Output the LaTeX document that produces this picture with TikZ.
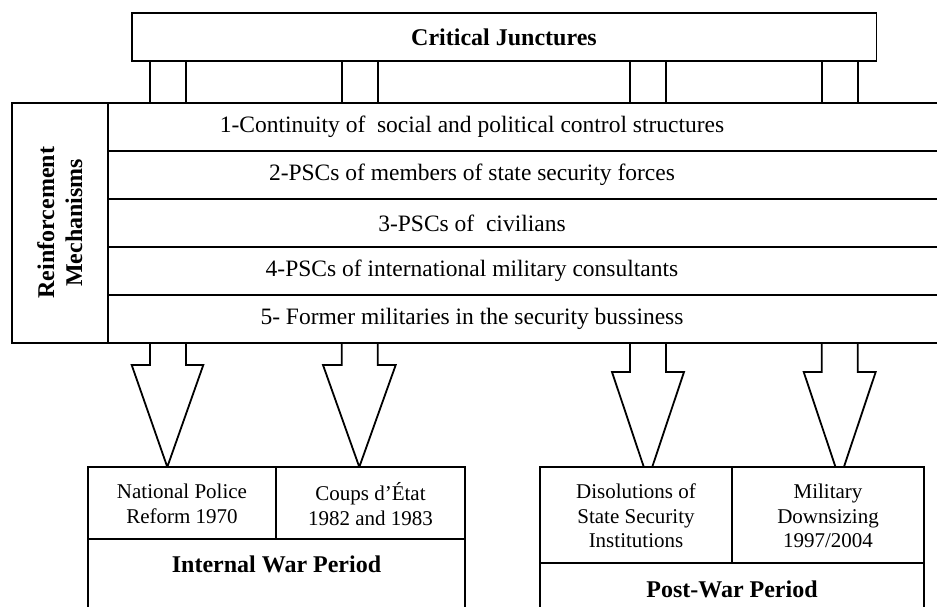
\documentclass[tikz,border=0pt]{standalone}
\usepackage{fontspec}
\setmainfont{Liberation Serif}
\begin{document}
\begin{tikzpicture}[x=1pt,y=-1pt, line width=1.8pt, line join=miter,
  lbl/.style={font=\fontsize{21}{24.5}\selectfont, align=center, inner sep=0pt},
  rowlbl/.style={font=\fontsize{23.5}{27}\selectfont, align=center, inner sep=0pt},
  bld/.style={font=\fontsize{24}{28}\selectfont\bfseries, align=center, inner sep=0pt},
  blockarrow/.style={draw, line width=1.8pt}]
\useasboundingbox (0,0) rectangle (937,607);
\clip (0,0) rectangle (937,607);
% Critical junctures box
\draw (132,13) rectangle (876.5,61);
\node[bld] (cj) at (504,37) {Critical Junctures};
% pillars
\foreach \px in {150,186,341.7,377.7,630,666,821.7,857.7}
  \draw (\px,61) -- (\px,102.7);
% Reinforcement mechanisms box
\draw (11.7,102.7) rectangle (108,342.7);
\node[bld, rotate=90] (rm) at (59.8,222.7) {Reinforcement\\Mechanisms};
% rows
\draw (108,102.7) rectangle (950,342.7);
\foreach \ry in {151,199,247,295}
  \draw (108,\ry) -- (950,\ry);
\node[rowlbl] (r1) at (472,127) {1-Continuity of~ social and political control structures};
\node[rowlbl] (r2) at (472,175) {2-PSCs of members of state security forces};
\node[rowlbl] (r3) at (472,223) {3-PSCs of~ civilians};
\node[rowlbl] (r4) at (472,271) {4-PSCs of international military consultants};
\node[rowlbl] (r5) at (472,319) {5- Former militaries in the security bussiness};
% block arrows
\draw[blockarrow] (150,342.7) -- (150,365) -- (131.7,365) -- (167.3,467) -- (203.3,365) -- (186,365) -- (186,342.7);
\draw[blockarrow] (341.7,342.7) -- (341.7,365) -- (323,365) -- (359.3,467) -- (395.7,365) -- (377.7,365) -- (377.7,342.7);
\draw[blockarrow] (630,342.7) -- (630,372) -- (612,372) -- (643.8,467) -- (652.2,467) -- (684,372) -- (666,372) -- (666,342.7);
\draw[blockarrow] (821.7,342.7) -- (821.7,372) -- (803.7,372) -- (835.5,467) -- (843.9,467) -- (875.7,372) -- (857.7,372) -- (857.7,342.7);
% bottom left group
\draw[fill=white] (88,467) rectangle (465,630);
\draw (88,539.3) -- (465,539.3);
\draw (275.7,467) -- (275.7,539.3);
\node[lbl] (npr) at (182,504) {National Police\\Reform 1970};
\node[lbl] (coup) at (370.5,504) {Coups d’État\\1982 and 1983};
\node[bld] (iwp) at (276.5,564) {Internal War Period};
% bottom right group
\draw[fill=white] (540,467) rectangle (924,630);
\draw (540,563.3) -- (924,563.3);
\draw (732.3,467) -- (732.3,563.3);
\node[lbl] (dis) at (636,516) {Disolutions of\\State Security\\Institutions};
\node[lbl] (mil) at (828,516) {Military\\Downsizing\\1997/2004};
\node[bld] (pwp) at (732,589) {Post-War Period};
\end{tikzpicture}
\end{document}
